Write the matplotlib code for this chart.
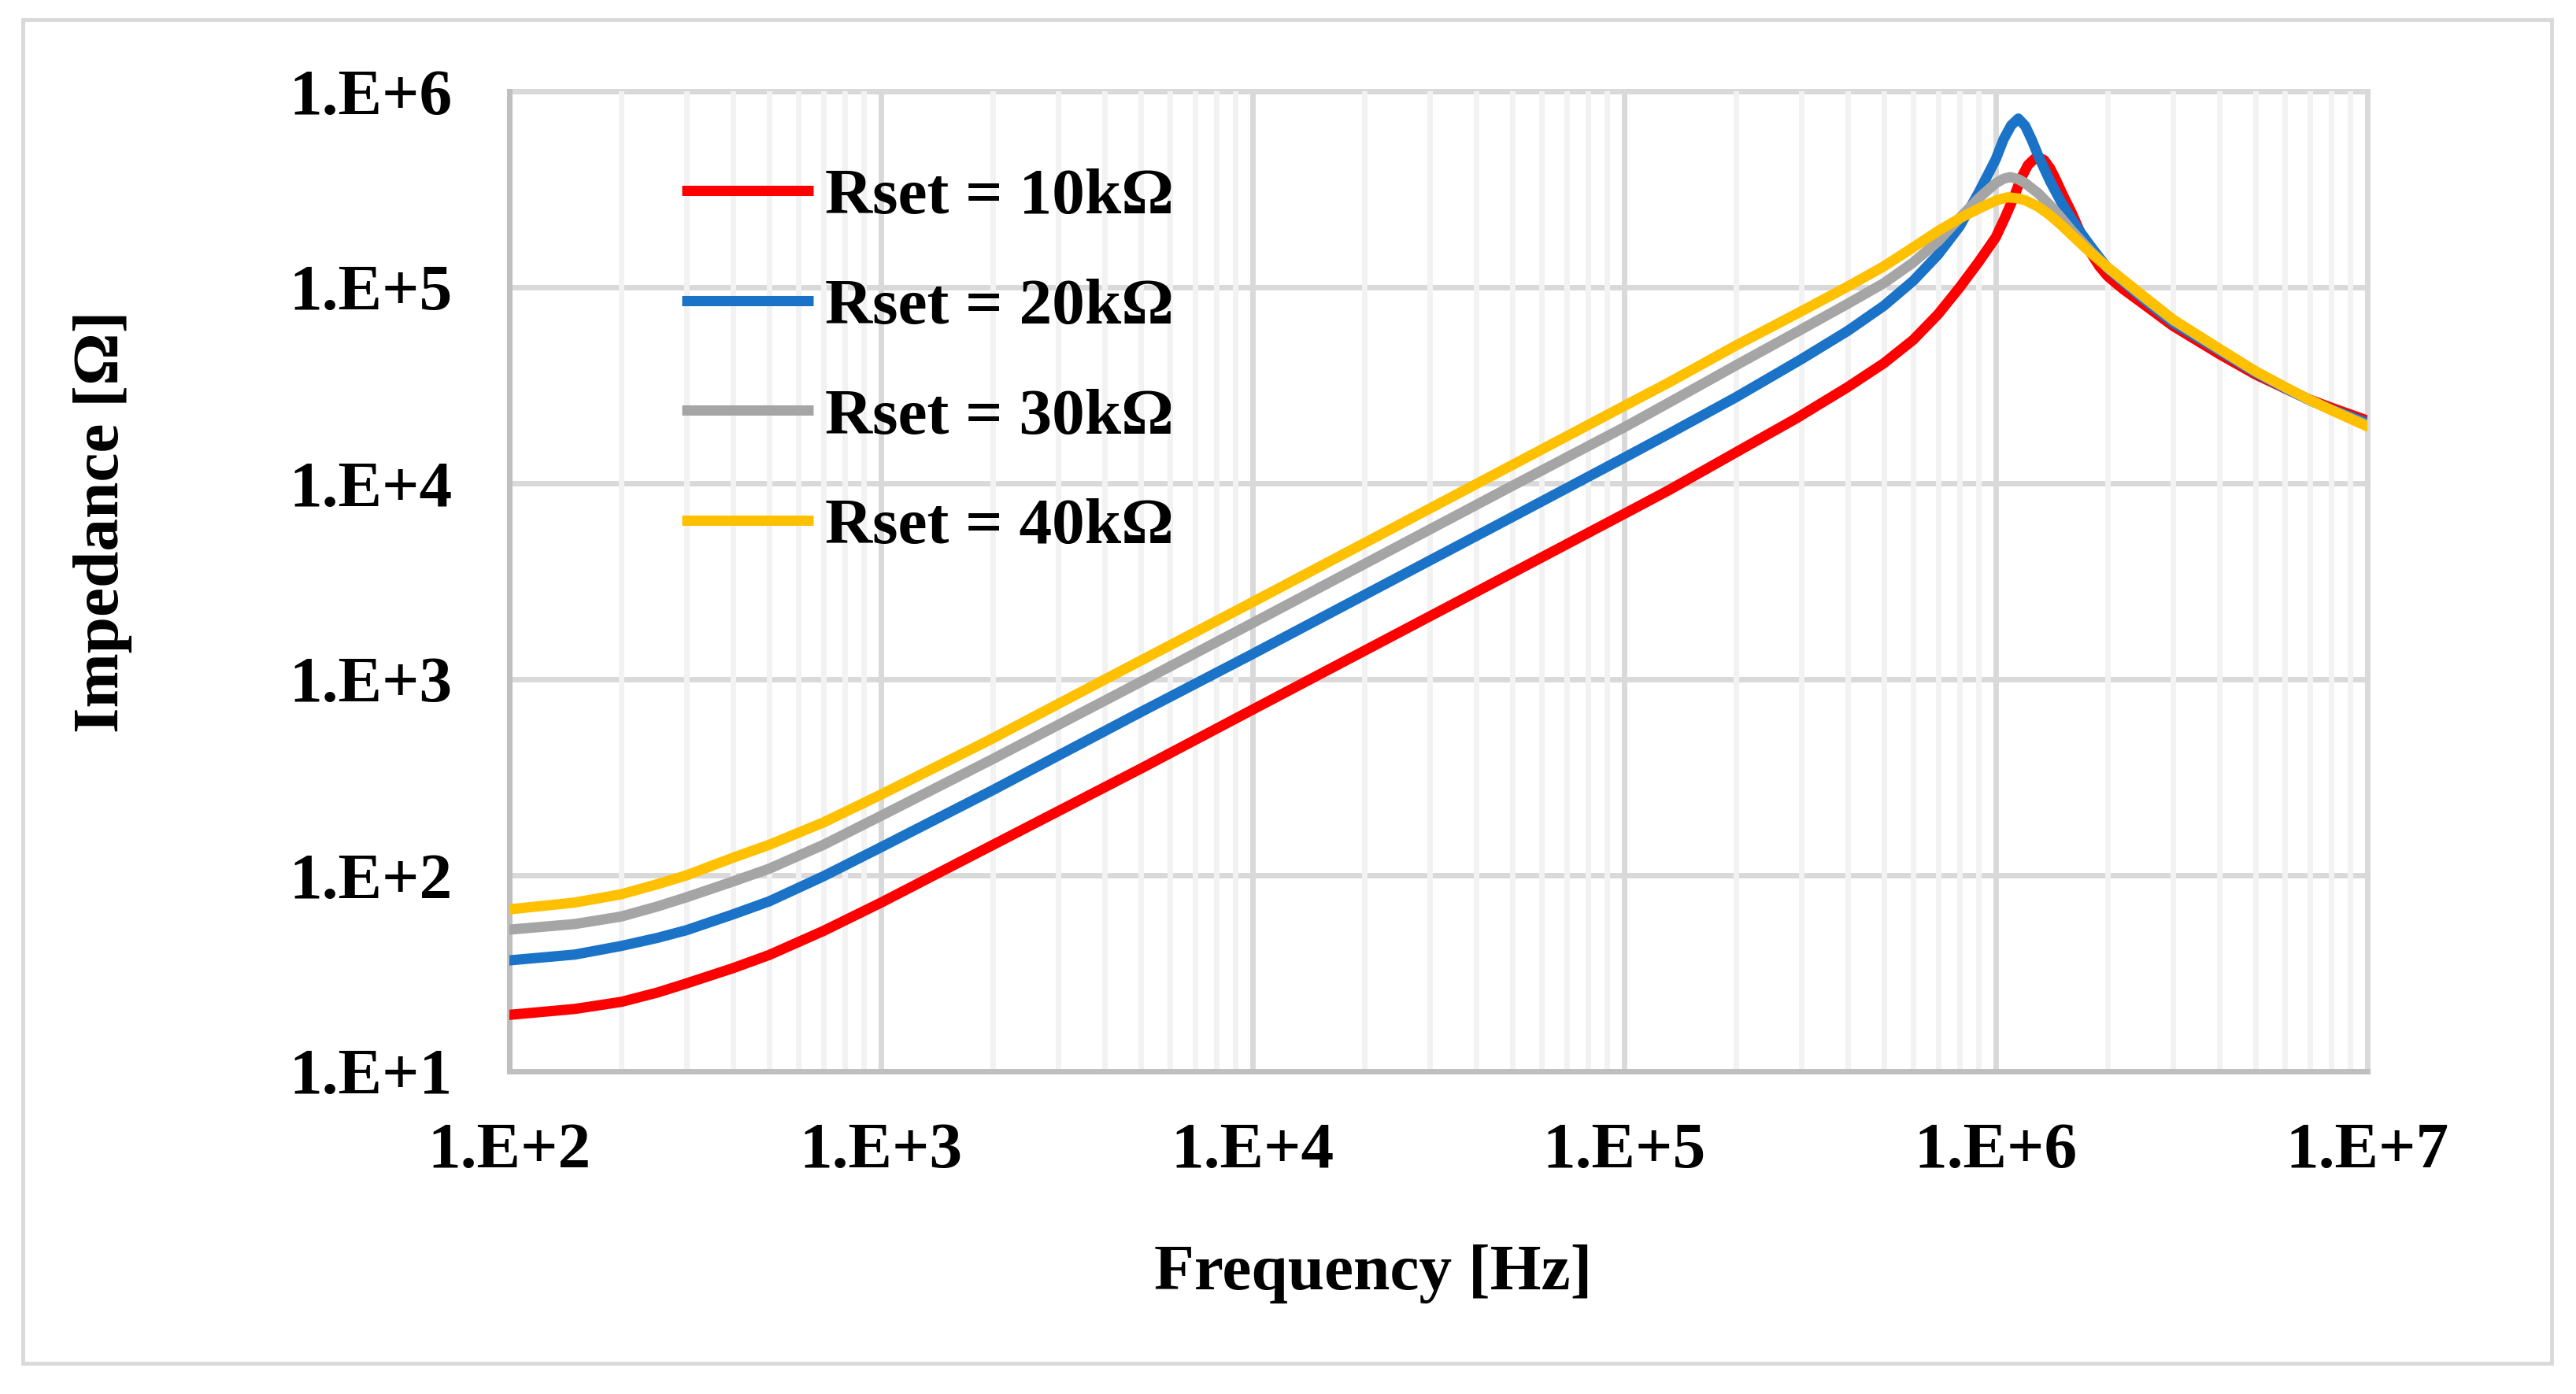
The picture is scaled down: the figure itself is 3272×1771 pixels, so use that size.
import numpy as np
import matplotlib
matplotlib.use("Agg")
import matplotlib.pyplot as plt
from matplotlib.ticker import FixedLocator, FixedFormatter, NullLocator, LogLocator
from matplotlib.patches import Rectangle
from matplotlib.lines import Line2D

# ---------------- data ----------------
series_labels = ["Rset = 10k\u03a9", "Rset = 20k\u03a9", "Rset = 30k\u03a9", "Rset = 40k\u03a9"]
series_colors = ["#FF0000", "#1A73C7", "#A5A5A5", "#FFC000"]

f_10k = [100, 150, 200, 250, 300, 400, 500, 700, 1000, 5000, 10000, 50000, 100000,
         132000, 226000, 290000, 400000, 500000, 600000, 700000, 800000, 900000,
         1000000, 1060000, 1120000, 1170000, 1220000, 1270000, 1310000, 1350000,
         1400000, 1450000, 1510000, 1600000, 1700000, 1800000, 1900000, 2000000,
         2200000, 2500000, 3000000, 4000000, 5000000, 6000000, 7000000, 8000000,
         10000000]
z_10k = [19.4, 20.8, 22.6, 25.2, 28.1, 33.6, 39.2, 52, 72.5, 350, 700, 3490, 6980,
         9230, 16400, 21400, 31000, 41000, 54000, 73000, 100000, 135000,
         180000, 228000, 290000, 360000, 420000, 452000, 458000, 445000,
         405000, 355000, 300000, 240000, 185000, 150000, 128000, 114000,
         98000, 82000, 63500, 45600, 35900, 30500, 26700, 24300,
         20900]

f_20k = [100, 150, 200, 250, 300, 400, 500, 700, 1000, 2000, 5000, 10000, 50000,
         100000, 132000, 200000, 300000, 400000, 500000, 600000, 700000, 800000,
         900000, 1000000, 1050000, 1100000, 1150000, 1200000, 1250000, 1300000,
         1400000, 1500000, 1600000, 1700000, 1800000, 2000000, 2500000, 3000000,
         4000000, 5000000, 6000000, 7000000, 8000000, 10000000]
z_20k = [36.8, 39.4, 43.6, 47.9, 52.5, 63.2, 73.6, 98.8, 139, 272, 680, 1346, 6730,
         13500, 17900, 27500, 43000, 60000, 80500, 108000, 147000, 205000,
         305000, 450000, 570000, 670000, 726000, 666000, 565000, 471000,
         348000, 272000, 223000, 188000, 162000, 125000, 87000, 66000,
         47500, 36700, 30600, 26500, 23800, 20300]

f_30k = [100, 150, 200, 250, 300, 400, 500, 700, 1000, 2000, 5000, 10000, 50000,
         100000, 132000, 200000, 300000, 400000, 500000, 600000, 700000, 800000,
         900000, 1000000, 1050000, 1094000, 1150000, 1200000, 1300000, 1400000,
         1500000, 1600000, 1800000, 2000000, 2500000, 3000000, 4000000, 5000000,
         6000000, 7000000, 8000000, 10000000]
z_30k = [52.8, 56.4, 61.6, 69.3, 77.3, 93, 108, 143, 201, 392, 970, 1936, 9700,
         19300, 25800, 40000, 61000, 82500, 105000, 134000, 172000, 226000,
         285000, 340000, 358000, 365000, 356000, 340000, 302000, 262000,
         226000, 195000, 153000, 126000, 89000, 68000, 48300, 37200,
         30900, 26600, 23700, 19800]

f_40k = [100, 150, 200, 250, 300, 400, 500, 700, 1000, 2000, 5000, 10000, 20000,
         50000, 100000, 132000, 200000, 300000, 400000, 500000, 600000, 700000,
         800000, 900000, 1000000, 1076000, 1150000, 1200000, 1300000, 1400000,
         1500000, 1600000, 1800000, 2000000, 2500000, 3000000, 4000000, 5000000,
         6000000, 7000000, 8000000, 10000000]
z_40k = [67, 72.6, 80, 90, 100, 123, 143, 186, 258, 500, 1245, 2477, 4955,
         12400, 24800, 32700, 50500, 75500, 101000, 128000, 160000, 194000,
         225000, 252000, 277000, 288000, 284000, 278000, 258000, 233000,
         208000, 185000, 150000, 126500, 90000, 68500, 48500, 37300,
         31000, 26600, 23600, 19500]

x_ticks = [1e2, 1e3, 1e4, 1e5, 1e6, 1e7]
x_tick_labels = ["1.E+2", "1.E+3", "1.E+4", "1.E+5", "1.E+6", "1.E+7"]
y_ticks = [1e1, 1e2, 1e3, 1e4, 1e5, 1e6]
y_tick_labels = ["1.E+1", "1.E+2", "1.E+3", "1.E+4", "1.E+5", "1.E+6"]
x_title = "Frequency [Hz]"
y_title = "Impedance [\u03a9]"

# ---------------- figure ----------------
W, H = 3272, 1771
fig = plt.figure(figsize=(W / 100, H / 100), dpi=100)
fig.patch.set_facecolor("white")

L, R, T, B = 647, 3007, 116, 1361
ax = fig.add_axes([L / W, 1 - B / H, (R - L) / W, (B - T) / H])

FONT = "Liberation Serif"
FS = 60

series = [(f_10k, z_10k), (f_20k, z_20k), (f_30k, z_30k), (f_40k, z_40k)]
handles = []
for (f, z), c, lab in zip(series, series_colors, series_labels):
    ax.plot(f, z, color=c, lw=9.4, solid_capstyle="round",
            solid_joinstyle="round", label=lab, zorder=3)
    handles.append(Line2D([], [], color=c, lw=9.4, solid_capstyle="butt"))

ax.set_xscale("log")
ax.set_yscale("log")
ax.set_xlim(1e2, 1e7)
ax.set_ylim(1e1, 1e6)

ax.xaxis.set_major_locator(FixedLocator(x_ticks))
ax.xaxis.set_major_formatter(FixedFormatter(x_tick_labels))
ax.xaxis.set_minor_locator(LogLocator(base=10, subs=np.arange(2, 10), numticks=50))
ax.yaxis.set_major_locator(FixedLocator(y_ticks))
ax.yaxis.set_major_formatter(FixedFormatter(y_tick_labels))
ax.yaxis.set_minor_locator(NullLocator())

ax.grid(which="major", axis="both", color="#D9D9D9", lw=5.0)
ax.grid(which="minor", axis="x", color="#F2F2F2", lw=5.0)
ax.set_axisbelow(True)
ax.xaxis.set_zorder(0.6)
ax.yaxis.set_zorder(0.5)
for gl in ax.get_ygridlines() + ax.get_xgridlines():
    gl.set_clip_on(False)

for s in ["top", "right"]:
    ax.spines[s].set_visible(False)
for s in ["left", "bottom"]:
    ax.spines[s].set_color("#BFBFBF")
    ax.spines[s].set_linewidth(5.0)
    ax.spines[s].set_zorder(2.5)

ax.tick_params(axis="both", which="both", length=0)
ax.tick_params(axis="x", which="major", pad=47)
ax.tick_params(axis="y", which="major", pad=52)
for lbl in ax.get_xticklabels() + ax.get_yticklabels():
    lbl.set_fontfamily(FONT)
    lbl.set_fontweight("bold")
    lbl.set_fontsize(FS)
    lbl.set_color("black")

fig.text(1744 / W, 1 - 1619 / H, x_title, ha="center", va="center",
         fontfamily=FONT, fontweight="bold", fontsize=FS, color="black")
fig.text(131 / W, 1 - 663 / H, y_title, ha="center", va="center", rotation=90,
         fontfamily=FONT, fontweight="bold", fontsize=FS, color="black")

leg = ax.legend(handles, series_labels, loc="upper left",
                bbox_to_anchor=((866 - L) / (R - L), (B - 213) / (B - T)),
                frameon=False, handlelength=2.0, handletextpad=0.18,
                labelspacing=0.76, borderaxespad=0, borderpad=0,
                prop={"family": FONT, "weight": "bold", "size": FS})
leg.set_zorder(5)

fig.patches.append(Rectangle((29 / W, 1 - 1732 / H), (3241 - 29) / W, (1732 - 25) / H,
                             transform=fig.transFigure, fill=False,
                             edgecolor="#D9D9D9", linewidth=3.5))

fig.savefig("out.png", dpi=100, facecolor="white")
